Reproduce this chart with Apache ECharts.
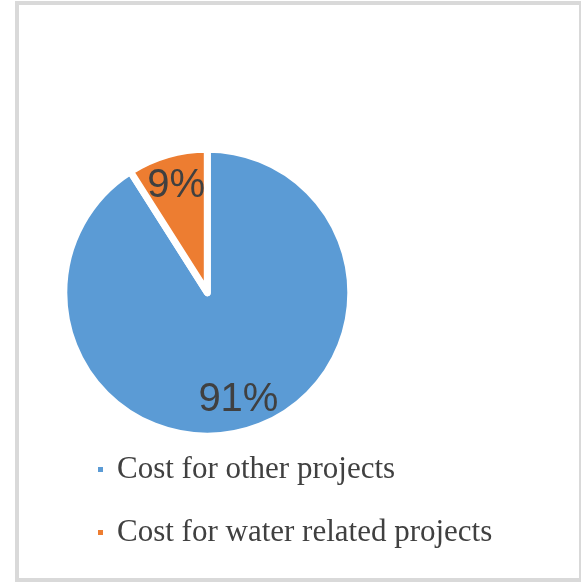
<!DOCTYPE html>
<html><head><meta charset="utf-8">
<script src="https://cdn.jsdelivr.net/npm/echarts@6/dist/echarts.min.js"></script>
<style>html,body{margin:0;padding:0;background:#fff}#c{width:581px;height:582px}</style>
</head><body><div id="c"></div>
<script>
const categories = ['Cost for other projects', 'Cost for water related projects'];
const values = [91, 9];
const colors = ['#5b9bd5', '#ed7d31'];

const chart = echarts.init(document.getElementById('c'), null, {renderer: 'canvas'});
const center = [207.3, 292.7];
chart.setOption({
  animation: false,
  graphic: [{
    type: 'rect', silent: true, z: -1,
    shape: {x: 17, y: 3, width: 564, height: 577},
    style: {fill: 'none', stroke: '#d9d9d9', lineWidth: 4}
  }],
  legend: {
    orient: 'vertical', left: 96, top: 454, padding: 0,
    icon: 'rect', itemWidth: 7, itemHeight: 7, itemGap: 32,
    data: categories,
    textStyle: {fontFamily: 'Liberation Serif', fontSize: 31, lineHeight: 30, color: '#404040', padding: [0, 0, 0, 8]}
  },
  series: [{
    type: 'pie', center: center, radius: 143.5, startAngle: 90, clockwise: true,
    silent: true,
    itemStyle: {borderColor: '#fff', borderWidth: 7, borderJoin: 'round'},
    label: {show: false}, labelLine: {show: false},
    data: categories.map((n, i) => ({name: n, value: values[i], itemStyle: {color: colors[i]}}))
  }, {
    type: 'pie', center: center, radius: 217, startAngle: 90, clockwise: true,
    silent: true, legendHoverLink: false,
    itemStyle: {color: 'rgba(0,0,0,0)', borderWidth: 0},
    label: {show: true, position: 'inside', formatter: '{d}%', fontFamily: 'Liberation Sans', fontSize: 40, color: '#404040'},
    labelLine: {show: false},
    data: categories.map((n, i) => ({name: n + ' ', value: values[i]}))
  }]
});
</script></body></html>
